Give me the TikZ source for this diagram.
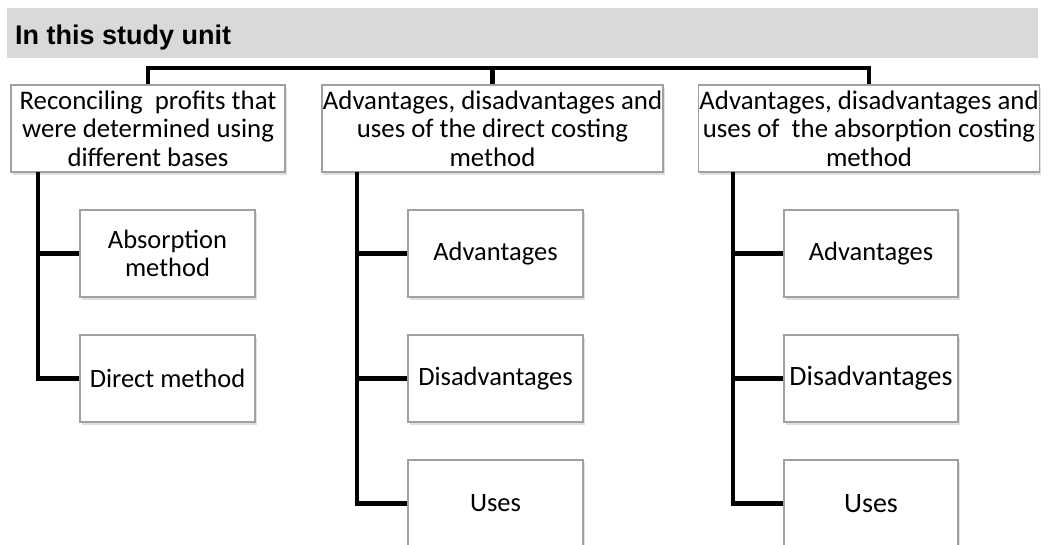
\documentclass[tikz,border=0pt]{standalone}
\usepackage{fontspec}
\setmainfont{Carlito}
\newfontfamily\headfont{Liberation Sans}
\usetikzlibrary{positioning,shadows}

\definecolor{headgray}{HTML}{D9D9D9}
\definecolor{boxline}{HTML}{A0A0A0}

\tikzset{
  unitbox/.style={draw=boxline,line width=1.5pt,fill=white,align=center,
    inner sep=1pt,minimum height=87pt,
    drop shadow={opacity=0.25,shadow xshift=1.5pt,shadow yshift=-2.5pt},
    font=\fontsize{26.8}{28.5}\selectfont},
  partbox/.style={unitbox,minimum width=175pt,font=\fontsize{26.5}{28}\selectfont},
  link/.style={line width=4.5pt,black}
}

\begin{document}
\begin{tikzpicture}[x=1pt,y=-1pt]
    \useasboundingbox (0,0) rectangle (1048,544);
    \clip (0,0) rectangle (1048,544);
    \fill[headgray] (7,8) rectangle (1038,58);
    \node[anchor=base west,inner sep=0pt,font=\headfont\bfseries\fontsize{27}{30}\selectfont] (title) at (15,44) {In this study unit};

    % main topics
    \node[unitbox,minimum width=274pt] (recon) at (148,128.5) {Reconciling\ \ profits that\\were determined using\\different bases};
    \node[unitbox,minimum width=341pt] (direct) at (492.5,128.5) {Advantages, disadvantages and\\uses of the direct costing\\method};
    \node[unitbox,minimum width=338pt] (absorb) at (869,128.5) {Advantages, disadvantages and\\uses of\ \ the absorption costing\\method};

    % sub topics
    \node[partbox] (rabs) at (167.5,253.5) {Absorption\\method};
    \node[partbox] (rdir) at (167.5,378.5) {Direct method};
    \node[partbox] (dadv) at (495.5,253.5) {Advantages};
    \node[partbox] (ddis) at (495.5,378.5) {Disadvantages};
    \node[partbox] (duse) at (495.5,503.5) {Uses};
    \node[partbox,minimum width=174pt] (aadv) at (871,253.5) {Advantages};
    \node[partbox,minimum width=174pt,font=\fontsize{28}{30}\selectfont] (adis) at (871,378.5) {Disadvantages};
    \node[partbox,minimum width=174pt,font=\fontsize{28}{30}\selectfont] (ause) at (871,503.5) {Uses};

    \coordinate (bus) at (0,68);
    \coordinate (sr) at (38,172);
    \coordinate (sd) at (357,172);
    \coordinate (sa) at (733,172);

    \draw[link] (recon.north) -- (recon.north |- bus) -- (absorb.north |- bus) -- (absorb.north);
    \draw[link] (direct.north |- bus) -- (direct.north);

    \draw[link] (sr) |- (rdir.west);
    \draw[link] (sr |- rabs.west) -- (rabs.west);
    \draw[link] (sd) |- (duse.west);
    \draw[link] (sd |- dadv.west) -- (dadv.west);
    \draw[link] (sd |- ddis.west) -- (ddis.west);
    \draw[link] (sa) |- (ause.west);
    \draw[link] (sa |- aadv.west) -- (aadv.west);
    \draw[link] (sa |- adis.west) -- (adis.west);
\end{tikzpicture}
\end{document}
